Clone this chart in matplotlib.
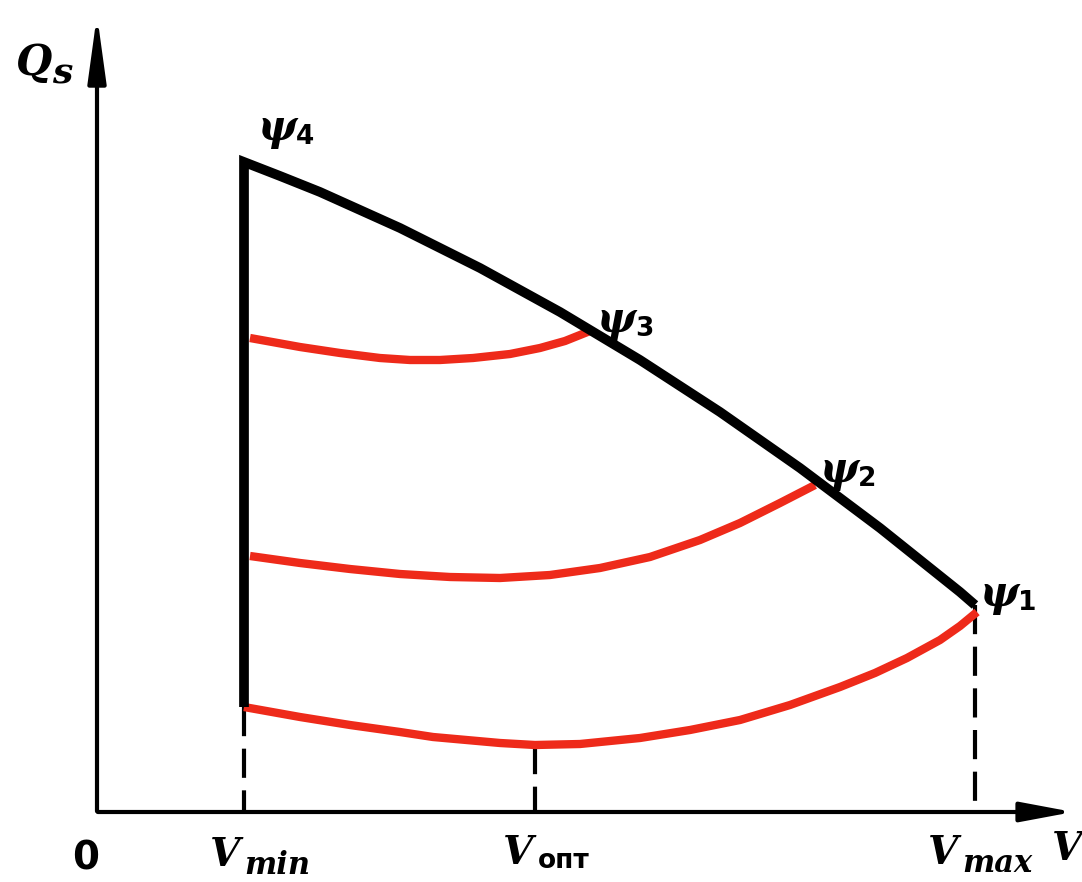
import numpy as np
import matplotlib.pyplot as plt

# diagram coordinates (picture units, y grows downward)
origin = (97, 812)
v_min, v_opt, v_max = 244, 535, 975

# upper boundary curve psi4 -> psi1
bound_x = [244, 280, 320, 360, 400, 440, 480, 520, 560, 600, 640, 680, 720, 760, 800, 840, 880, 920, 960, 975]
bound_y = [162, 176, 192, 210, 228, 248, 268, 290, 312, 336, 360, 386, 412, 440, 468, 498, 528, 560, 592, 605]

# red curves
r1_x = [244, 300, 350, 400, 433, 500, 535, 580, 640, 690, 740, 790, 840, 875, 907, 940, 960, 977]
r1_y = [707, 717, 725, 732, 737, 743, 745, 744, 738, 730, 720, 705, 687, 673, 658, 640, 626, 612]
r2_x = [250, 300, 350, 400, 450, 500, 550, 600, 650, 700, 740, 780, 815]
r2_y = [556, 563, 569, 574, 577, 578, 575, 568, 557, 540, 523, 503, 485]
r3_x = [250, 300, 340, 380, 410, 440, 473, 510, 540, 565, 590]
r3_y = [338, 347, 353, 358, 360, 360, 358, 354, 348, 341, 331]

red = '#ee2a1a'

fig = plt.figure(figsize=(10.82, 8.82), dpi=100)
ax = fig.add_axes([0, 0, 1, 1])
ax.set_xlim(0, 1082)
ax.set_ylim(882, 0)
ax.axis('off')

# axes with arrows
ax.annotate('', xy=(origin[0], 12), xytext=(origin[0], origin[1] + 2),
            arrowprops=dict(arrowstyle='-|>,head_length=4,head_width=0.55', lw=3, color='black'))
ax.annotate('', xy=(1076, origin[1]), xytext=(origin[0] - 2, origin[1]),
            arrowprops=dict(arrowstyle='-|>,head_length=3.2,head_width=0.6', lw=3, color='black'))

# dashed verticals
ax.plot([v_min, v_min], [r1_y[0], origin[1]], color='black', lw=3, dashes=(7, 3))
ax.plot([v_opt, v_opt], [r1_y[6], origin[1]], color='black', lw=3, dashes=(7, 3))
ax.plot([v_max, v_max], [bound_y[-1], origin[1]], color='black', lw=3, dashes=(7, 3))

# red curves
for xs, ys in [(r1_x, r1_y), (r2_x, r2_y), (r3_x, r3_y)]:
    ax.plot(xs, ys, color=red, lw=6, solid_capstyle='butt', solid_joinstyle='round')

# black boundary
ax.plot([v_min] + bound_x, [r1_y[0]] + bound_y, color='black', lw=7,
        solid_joinstyle='miter', solid_capstyle='butt')

fp = dict(family='DejaVu Serif', fontweight='bold', color='black')
fs = dict(family='DejaVu Sans', fontweight='bold', color='black')

# y label
ax.text(16, 75, 'Q', fontsize=30, style='italic', **fp)
ax.text(52, 84, 's', fontsize=26, style='italic', **fp)

# psi labels
psi_pos = [(980, 606, '1'), (820, 482, '2'), (597, 332, '3'), (258, 140, '4')]
for px, py, n in psi_pos:
    ax.text(px, py, 'ψ', fontsize=30, style='italic', **fp)
    ax.text(px + 38, py + 4, n, fontsize=19, **fs)

# x labels
ax.text(72, 870, '0', fontsize=28, **fs)
ax.text(210, 866, 'V', fontsize=28, style='italic', **fp)
ax.text(244, 874, 'min', fontsize=22, style='italic', **fp)
ax.text(503, 864, 'V', fontsize=28, style='italic', **fp)
ax.text(538, 868, 'опт', fontsize=19, **fs)
ax.text(928, 864, 'V', fontsize=28, style='italic', **fp)
ax.text(962, 872, 'max', fontsize=22, style='italic', **fp)
ax.text(1052, 860, 'V', fontsize=28, style='italic', **fp)

fig.savefig('out.png', dpi=100)
